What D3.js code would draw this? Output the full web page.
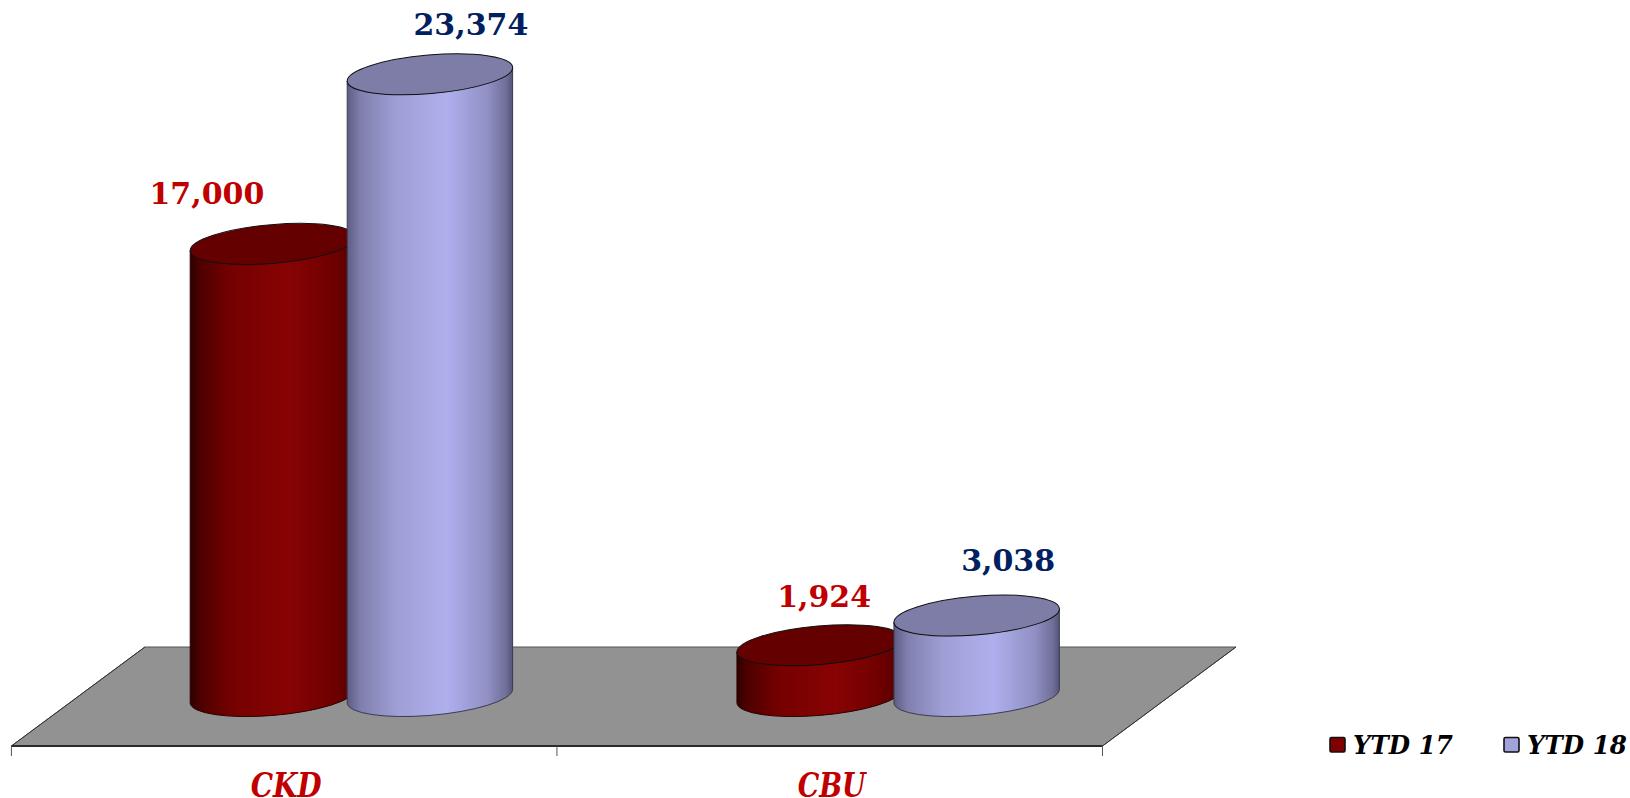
<!DOCTYPE html>
<html lang="en">
<head>
    <meta charset="UTF-8">
    <title>CKD / CBU</title>
    <script src="https://d3js.org/d3.v7.min.js"></script>
    <style>
        html, body { margin: 0; padding: 0; background: #fff; overflow: hidden; }
        svg { display: block; }
        text { font-family: "DejaVu Serif", serif; font-weight: bold; }
    </style>
</head>
<body>
    <svg width="1630" height="798"></svg>

    <script>
        // data
        const categories = ["CKD", "CBU"];
        const seriesNames = ["YTD 17", "YTD 18"];
        const ytd17 = [17000, 1924];
        const ytd18 = [23374, 3038];

        const svgElement = d3.select("svg");
        const defs = svgElement.append("defs");

        // floor corners, in px
        const floorFront = 746, floorBack = 647, floorSkew = 133.5;
        const axisLeft = 11.4, axisRight = 1102.5;

        // cylinder shape: tilted ellipse
        const rx = 83, ry = 19.3, tilt = -4.9;
        const edgeX = 82.7, edgeY = 6.7;

        const x = d3.scaleBand().domain(categories).range([axisLeft, axisRight]);
        const seriesX = d3.scaleBand().domain(seriesNames).range([0, 314]);
        const cylinderOffset = 178.5;
        const y = d3.scaleLinear().domain([0, 25000]).range([696.4, 31]);

        const styles = {
            "YTD 17": {
                top: "#640000", stroke: "#2a0000", label: "#C00000", swatch: "#800000",
                stops: [[0, "#2e0000"], [0.06, "#4d0000"], [0.25, "#750000"], [0.6, "#880303"], [0.85, "#700000"], [1, "#560000"]]
            },
            "YTD 18": {
                top: "#7d7da8", stroke: "#3a3a50", label: "#002060", swatch: "#a3a3dc",
                stops: [[0, "#5c5c84"], [0.08, "#7f7fae"], [0.3, "#9f9fd6"], [0.6, "#afafee"], [0.85, "#9090c4"], [0.96, "#6f6f99"], [1, "#55557a"]]
            }
        };

        // offsets of the value labels from the cylinder centre / top
        const labelShift = {
            "YTD 17": { CKD: [-66, -40], CBU: [4.5, -38.5] },
            "YTD 18": { CKD: [41, -39], CBU: [31.5, -44.5] }
        };

        // the category labels are squeezed a little in the original
        const categoryWidth = { CKD: 71, CBU: 68 };

        seriesNames.forEach((name, i) => {
            const grad = defs.append("linearGradient")
                .attr("id", "grad" + i);
            styles[name].stops.forEach(s => {
                grad.append("stop").attr("offset", s[0]).attr("stop-color", s[1]);
            });
        });

        // floor
        svgElement.append("path")
            .attr("d", d3.line()([
                [axisLeft, floorFront],
                [axisRight, floorFront],
                [axisRight + floorSkew, floorBack],
                [axisLeft + floorSkew, floorBack]
            ]) + "Z")
            .attr("fill", "#929292")
            .attr("stroke", "#555")
            .attr("stroke-width", 1);

        // sides are darker than the back edge
        svgElement.append("line")
            .attr("x1", axisLeft).attr("y1", floorFront)
            .attr("x2", axisLeft + floorSkew).attr("y2", floorBack)
            .attr("stroke", "#333").attr("stroke-width", 1);
        svgElement.append("line")
            .attr("x1", axisRight).attr("y1", floorFront)
            .attr("x2", axisRight + floorSkew).attr("y2", floorBack)
            .attr("stroke", "#333").attr("stroke-width", 1);

        // category axis
        svgElement.append("line")
            .attr("x1", axisLeft).attr("y1", floorFront)
            .attr("x2", axisRight).attr("y2", floorFront)
            .attr("stroke", "#2b2b2b").attr("stroke-width", 2);

        const tickValues = [axisLeft].concat(categories.map(c => x(c) + x.bandwidth()));
        tickValues.forEach(t => {
            svgElement.append("line")
                .attr("x1", t).attr("y1", floorFront)
                .attr("x2", t).attr("y2", floorFront + 10)
                .attr("stroke", "#555").attr("stroke-width", 1);
        });

        categories.forEach(c => {
            svgElement.append("text")
                .attr("x", x(c) + x.bandwidth() / 2 + 2)
                .attr("y", 796.5)
                .attr("text-anchor", "middle")
                .attr("font-size", 33)
                .attr("font-style", "italic")
                .attr("fill", "#C00000")
                .attr("textLength", categoryWidth[c])
                .attr("lengthAdjust", "spacingAndGlyphs")
                .text(c);
        });

        function drawCylinder(cx, topY, baseY, name, i) {
            const st = styles[name];
            const body = `M${cx - edgeX},${topY + edgeY}`
                + `L${cx - edgeX},${baseY + edgeY}`
                + `A${rx},${ry} ${tilt} 0 0 ${cx + edgeX},${baseY - edgeY}`
                + `L${cx + edgeX},${topY - edgeY}`
                + `A${rx},${ry} ${tilt} 0 1 ${cx - edgeX},${topY + edgeY}Z`;

            svgElement.append("path")
                .attr("d", body)
                .attr("fill", `url(#grad${i})`)
                .attr("stroke", st.stroke)
                .attr("stroke-width", 1);

            svgElement.append("ellipse")
                .attr("cx", cx).attr("cy", topY)
                .attr("rx", rx).attr("ry", ry)
                .attr("transform", `rotate(${tilt} ${cx} ${topY})`)
                .attr("fill", st.top)
                .attr("stroke", "#111")
                .attr("stroke-width", 1);
        }

        // cylinders
        categories.forEach((c, ci) => {
            [ytd17, ytd18].forEach((values, si) => {
                const name = seriesNames[si];
                const cx = x(c) + cylinderOffset + (ci * 1.2) + seriesX(name) + 83;
                drawCylinder(cx, y(values[ci]), y(0), name, si);
            });
        });

        // value labels
        categories.forEach((c, ci) => {
            [ytd17, ytd18].forEach((values, si) => {
                const name = seriesNames[si];
                const cx = x(c) + cylinderOffset + (ci * 1.2) + seriesX(name) + 83;
                const shift = labelShift[name][c];
                svgElement.append("text")
                    .attr("x", cx + shift[0])
                    .attr("y", y(values[ci]) + shift[1])
                    .attr("text-anchor", "middle")
                    .attr("font-size", 30)
                    .attr("fill", styles[name].label)
                    .text(d3.format(",")(values[ci]));
            });
        });

        // legend
        const legendX = [1330, 1504];
        seriesNames.forEach((name, i) => {
            svgElement.append("rect")
                .attr("x", legendX[i]).attr("y", 737.5)
                .attr("width", 15).attr("height", 14.5)
                .attr("rx", 1.5)
                .attr("fill", styles[name].swatch)
                .attr("stroke", "#111")
                .attr("stroke-width", 1.6);
            svgElement.append("text")
                .attr("transform", `translate(${legendX[i] + 23},753.5) scale(0.945,1)`)
                .attr("font-size", 26)
                .attr("font-style", "italic")
                .attr("fill", "#000")
                .text(name);
        });
    </script>
</body>
</html>
